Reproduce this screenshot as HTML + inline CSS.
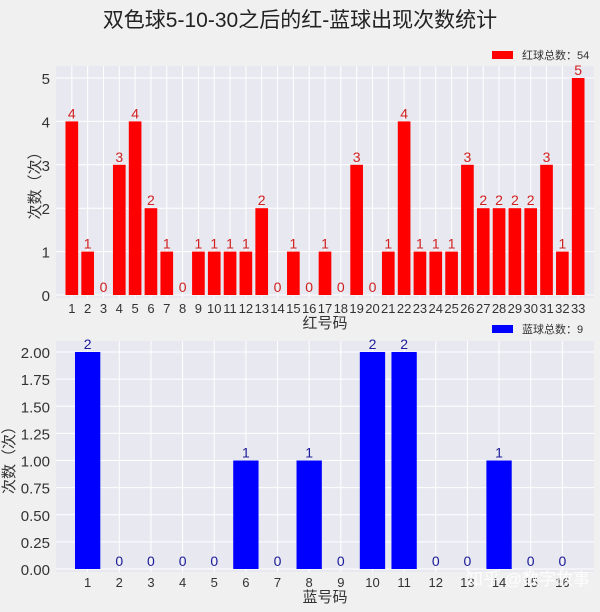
<!DOCTYPE html>
<html><head><meta charset="utf-8"><style>
body{margin:0;background:#f0f0f0;font-family:"Liberation Sans","Noto Sans CJK SC",sans-serif;}
svg text{font-family:"Liberation Sans","Noto Sans CJK SC",sans-serif;}
</style></head><body>
<svg id="c" width="600" height="607" xmlns="http://www.w3.org/2000/svg">
<rect width="600" height="607" fill="#f0f0f0"/>
<text x="300" y="27" text-anchor="middle" font-size="21" fill="#222">双色球5-10-30之后的红-蓝球出现次数统计</text>
</svg>
<script>
const redCats=[];for(let i=1;i<=33;i++)redCats.push(String(i));
const redVals=[4,1,0,3,4,2,1,0,1,1,1,1,2,0,1,0,1,0,3,0,1,4,1,1,1,3,2,2,2,2,3,1,5];
const redTicks=[0,1,2,3,4,5];
const blueCats=[];for(let i=1;i<=16;i++)blueCats.push(String(i));
const blueVals=[2,0,0,0,0,1,0,1,0,2,2,0,0,1,0,0];
const blueTicks=[0,0.25,0.5,0.75,1,1.25,1.5,1.75,2];
const NS="http://www.w3.org/2000/svg";
const svg=document.getElementById('c');
function mk(t,a,p){const e=document.createElementNS(NS,t);for(const k in a)e.setAttribute(k,a[k]);(p||svg).appendChild(e);return e;}
function panel(o){
  const g=mk('g',{});
  
  
  const L=56,R=594,T=o.top,B=o.bottom;
  mk('rect',{x:L,y:T,width:R-L,height:B-T,fill:'#e8e8f0'},g);
  const n=o.cats.length,step=(R-L)/(n+1);
  const x=i=>L+step*(i+1);
  const y=v=>o.y0-(v/o.ymax)*(o.y0-o.ytop);
  o.cats.forEach((c,i)=>{mk('line',{x1:x(i),x2:x(i),y1:T,y2:B,stroke:'#fff','stroke-width':1},g);});
  o.ticks.forEach(t=>{
    mk('line',{x1:L,x2:R,y1:y(t),y2:y(t),stroke:'#fff','stroke-width':1},g);
    const tx=mk('text',{x:L-6,y:y(t)+6,'text-anchor':'end','font-size':15,fill:'#333'},g);
    tx.textContent=o.fmt(t);
    
    
  });
  const bw=step*0.8;
  o.vals.forEach((v,i)=>{
    const r=mk('rect',{x:x(i)-bw/2,y:y(v),width:bw,height:o.y0-y(v),fill:o.color},g);
    
    
    const lb=mk('text',{x:x(i),y:y(v)-3,'text-anchor':'middle','font-size':14,fill:o.lcolor},g);
    lb.textContent=String(v);
    
    
    const xl=mk('text',{x:x(i),y:o.y0+18,'text-anchor':'middle','font-size':o.xfs,fill:'#333'},g);
    xl.textContent=o.cats[i];
    
    
  });
  const xt=mk('text',{x:(L+R)/2,y:o.y0+33,'text-anchor':'middle','font-size':15,fill:'#333'},g);
  xt.textContent=o.xtitle;
  
  
  const yt=mk('text',{x:0,y:0,'text-anchor':'middle','font-size':15,fill:'#333',transform:`translate(${o.ytx},${(T+B)/2}) rotate(-90)`},g);
  yt.textContent='次数（次）';
  
  
  const lr=mk('rect',{x:492,y:o.legY-4,width:21,height:8,fill:o.color},g);
  
  
  const lt=mk('text',{x:522,y:o.legY+4,'font-size':11,fill:'#333'},g);
  lt.textContent=o.legend;
  
  
}
panel({name:'red-panel',top:66,bottom:298,y0:295,ytop:78,ymax:5,cats:redCats,vals:redVals,ticks:redTicks,fmt:t=>String(t),color:'#ff0000',lcolor:'#d02020',xfs:13,xtitle:'红号码',ytx:40,legY:55,legend:'红球总数：54'});
panel({name:'blue-panel',top:341,bottom:572,y0:569,ytop:352,ymax:2,cats:blueCats,vals:blueVals,ticks:blueTicks,fmt:t=>t.toFixed(2),color:'#0000ff',lcolor:'#1a1a9a',xfs:13,xtitle:'蓝号码',ytx:14,legY:329,legend:'蓝球总数：9'});
const wm=mk('text',{x:590,y:585,'text-anchor':'end','font-size':17,fill:'#fff','fill-opacity':0.85});
wm.textContent='知乎 @数字故事';


</script>
</body></html>
